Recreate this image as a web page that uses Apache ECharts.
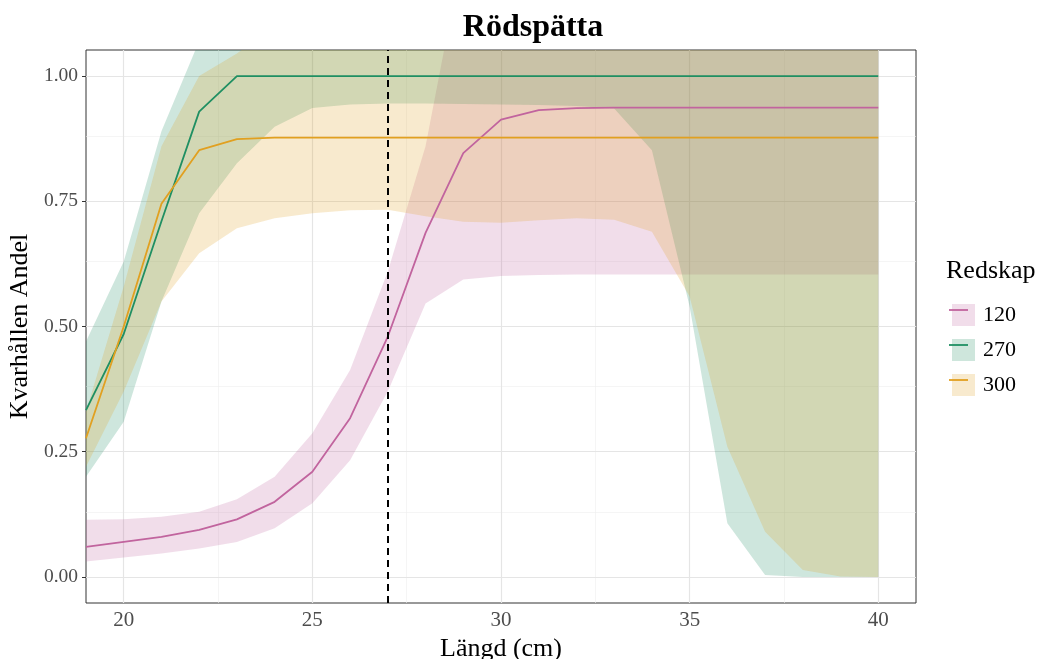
<!DOCTYPE html>
<html>
<head>
<meta charset="utf-8">
<script src="https://cdn.jsdelivr.net/npm/echarts@6/dist/echarts.min.js"></script>
<style>
html,body{margin:0;padding:0;background:#fff;}
#chart{width:1040px;height:659px;}
</style>
</head>
<body>
<div id="chart"></div>
<script>
// ---- data ----
const lengths = [19,20,21,22,23,24,25,26,27,28,29,30,31,32,33,34,35,36,37,38,39,40];

const fit120 = [0.060,0.070,0.080,0.094,0.115,0.150,0.210,0.317,0.480,0.687,0.846,0.913,0.932,0.936,0.937,0.937,0.937,0.937,0.937,0.937,0.937,0.937];
const lo120  = [0.031,0.039,0.047,0.057,0.070,0.097,0.147,0.233,0.370,0.546,0.594,0.601,0.603,0.604,0.604,0.604,0.604,0.604,0.604,0.604,0.604,0.604];
const hi120  = [0.114,0.115,0.120,0.130,0.155,0.200,0.287,0.413,0.610,0.860,1.250,1.270,1.270,1.270,1.270,1.270,1.270,1.270,1.270,1.270,1.270,1.270];

const fit270 = [0.333,0.485,0.710,0.929,1.000,1.000,1.000,1.000,1.000,1.000,1.000,1.000,1.000,1.000,1.000,1.000,1.000,1.000,1.000,1.000,1.000,1.000];
const lo270  = [0.200,0.310,0.550,0.726,0.826,0.899,0.936,0.943,0.945,0.945,0.944,0.943,0.942,0.940,0.935,0.852,0.540,0.107,0.004,0.000,0.000,0.000];
const hi270  = [0.470,0.630,0.890,1.070,1.120,1.120,1.120,1.120,1.120,1.120,1.120,1.120,1.120,1.120,1.120,1.120,1.120,1.120,1.120,1.120,1.120,1.120];

const fit300 = [0.277,0.500,0.745,0.852,0.874,0.877,0.877,0.877,0.877,0.877,0.877,0.877,0.877,0.877,0.877,0.877,0.877,0.877,0.877,0.877,0.877,0.877];
const lo300  = [0.220,0.370,0.550,0.646,0.696,0.716,0.726,0.732,0.733,0.720,0.709,0.707,0.712,0.716,0.713,0.689,0.560,0.260,0.090,0.014,0.001,0.000];
const hi300  = [0.330,0.580,0.860,1.000,1.045,1.100,1.100,1.100,1.100,1.100,1.100,1.100,1.100,1.100,1.100,1.100,1.100,1.100,1.100,1.100,1.100,1.100];

const groups = ['120','270','300'];
const xTicks = [20,25,30,35,40];
const xMinor = [22.5,27.5,32.5,37.5];
const yTicks = [0,0.25,0.5,0.75,1];
const yMinor = [0.125,0.375,0.625,0.875];
const cutoff = 27;

// ---- styling ----
const lineCol = {'120':'#C1649E','270':'#1F8F62','300':'#E1A020'};
const ALPHA = 0.22;
function rgba(hex,a){const n=parseInt(hex.slice(1),16);return `rgba(${n>>16},${(n>>8)&255},${n&255},${a})`;}
function blend(hex,a){const n=parseInt(hex.slice(1),16);const c=[n>>16,(n>>8)&255,n&255].map(v=>Math.round(255-a*(255-v)));return `rgb(${c.join(',')})`;}

const FONT = '"Liberation Serif", "Times New Roman", serif';

function bandSeries(name, lo, hi, color){
  return {
    type:'custom', name: name+' band', silent:true, clip:true, z:2,
    data: lengths.map((x,i)=>[x, lo[i], hi[i]]),
    encode:{x:0, y:[1,2]},
    renderItem:function(params, api){
      if (params.dataIndex !== 0) return null;
      const up = lengths.map((x,i)=>api.coord([x, hi[i]]));
      const dn = lengths.map((x,i)=>api.coord([x, lo[i]])).reverse();
      return {type:'polygon', shape:{points: up.concat(dn)}, style:{fill: rgba(color, ALPHA), stroke:null}};
    }
  };
}
function lineSeries(name, fit){
  return {
    type:'line', name:name, z:3, symbol:'none', silent:true,
    data: lengths.map((x,i)=>[x, fit[i]]),
    lineStyle:{color: lineCol[name], width:1.8},
    itemStyle:{color: lineCol[name]}
  };
}

const gridMajor = {color:'#E5E5E5', width:1.2, type:'solid'};
const gridMinor = {color:'#EEEEEE', width:0.6, type:'solid'};

const helper = {
  type:'line', name:'grid', data:[[19,-1]], symbol:'none', silent:true, z:1,
  lineStyle:{opacity:0},
  markLine:{
    silent:true, symbol:'none', z:1, animation:false,
    label:{show:false},
    data: [
      ...xMinor.map(v=>({xAxis:v, lineStyle:gridMinor})),
      ...yMinor.map(v=>({yAxis:v, lineStyle:gridMinor})),
      ...xTicks.map(v=>({xAxis:v, lineStyle:gridMajor})),
      ...yTicks.map(v=>({yAxis:v, lineStyle:gridMajor}))
    ]
  }
};
const vline = {
  type:'line', name:'cut', data:[[19,-1]], symbol:'none', silent:true, z:4,
  lineStyle:{opacity:0},
  markLine:{
    silent:true, symbol:'none', z:6, animation:false,
    label:{show:false},
    lineStyle:{color:'#000', width:2, type:[7,5]},
    data:[{xAxis:cutoff}]
  }
};

const chart = echarts.init(document.getElementById('chart'), null, {renderer:'canvas'});
const legendTop = 299, itemH = 22, itemGap = 13, legendLeft = 947, itemW = 23;

const option = {
  animation:false,
  textStyle:{fontFamily:FONT},
  grid:{left:86, right:124, top:50, bottom:56, show:true, borderColor:'#333333', borderWidth:1,
        backgroundColor:'rgba(0,0,0,0)', containLabel:false, outerBoundsMode:'none'},
  xAxis:{
    type:'value', min:19, max:41,
    axisLine:{show:false}, splitLine:{show:false},
    axisTick:{show:true, customValues:xTicks, length:4, lineStyle:{color:'#333', width:1}},
    axisLabel:{customValues:xTicks, fontSize:21, color:'#4D4D4D', margin:7, fontFamily:FONT},
    name:'Längd (cm)', nameLocation:'middle', nameGap:30,
    nameTextStyle:{fontSize:26, color:'#000', fontFamily:FONT}
  },
  yAxis:{
    type:'value', min:-0.052, max:1.052,
    axisLine:{show:false}, splitLine:{show:false},
    axisTick:{show:true, customValues:yTicks, length:4, lineStyle:{color:'#333', width:1}},
    axisLabel:{customValues:yTicks, fontSize:19.5, color:'#4D4D4D', margin:8, fontFamily:FONT, formatter:v=>v.toFixed(2)},
    name:'Kvarhållen Andel', nameLocation:'middle', nameGap:49, nameRotate:90,
    nameTextStyle:{fontSize:26, color:'#000', fontFamily:FONT}
  },
  legend:{
    orient:'vertical', left:legendLeft, top:legendTop, itemWidth:itemW, itemHeight:itemH, itemGap:itemGap,
    icon:'rect', selectedMode:false,
    data: groups.map(g=>({name:g, itemStyle:{color: blend(lineCol[g], ALPHA), borderWidth:0}})),
    textStyle:{fontSize:22, color:'#000', fontFamily:FONT, padding:[0,0,0,3]}
  },
  graphic:[
    {type:'text', x:533, y:28, style:{text:'Rödspätta', font:'bold 32px '+FONT, fill:'#000', textAlign:'center', textVerticalAlign:'middle'}},
    {type:'text', x:946, y:271, style:{text:'Redskap', font:'26px '+FONT, fill:'#000', textAlign:'left', textVerticalAlign:'middle'}},
    ...groups.map((g,i)=>({type:'line', z:100, shape:{x1:legendLeft+2, y1:legendTop+i*(itemH+itemGap)+itemH/2, x2:legendLeft+itemW-2, y2:legendTop+i*(itemH+itemGap)+itemH/2}, style:{stroke:lineCol[g], lineWidth:1.8}}))
  ],
  series:[
    helper,
    bandSeries('120', lo120, hi120, lineCol['120']),
    bandSeries('270', lo270, hi270, lineCol['270']),
    bandSeries('300', lo300, hi300, lineCol['300']),
    lineSeries('120', fit120),
    lineSeries('270', fit270),
    lineSeries('300', fit300),
    vline
  ]
};
chart.setOption(option);
</script>
</body>
</html>
